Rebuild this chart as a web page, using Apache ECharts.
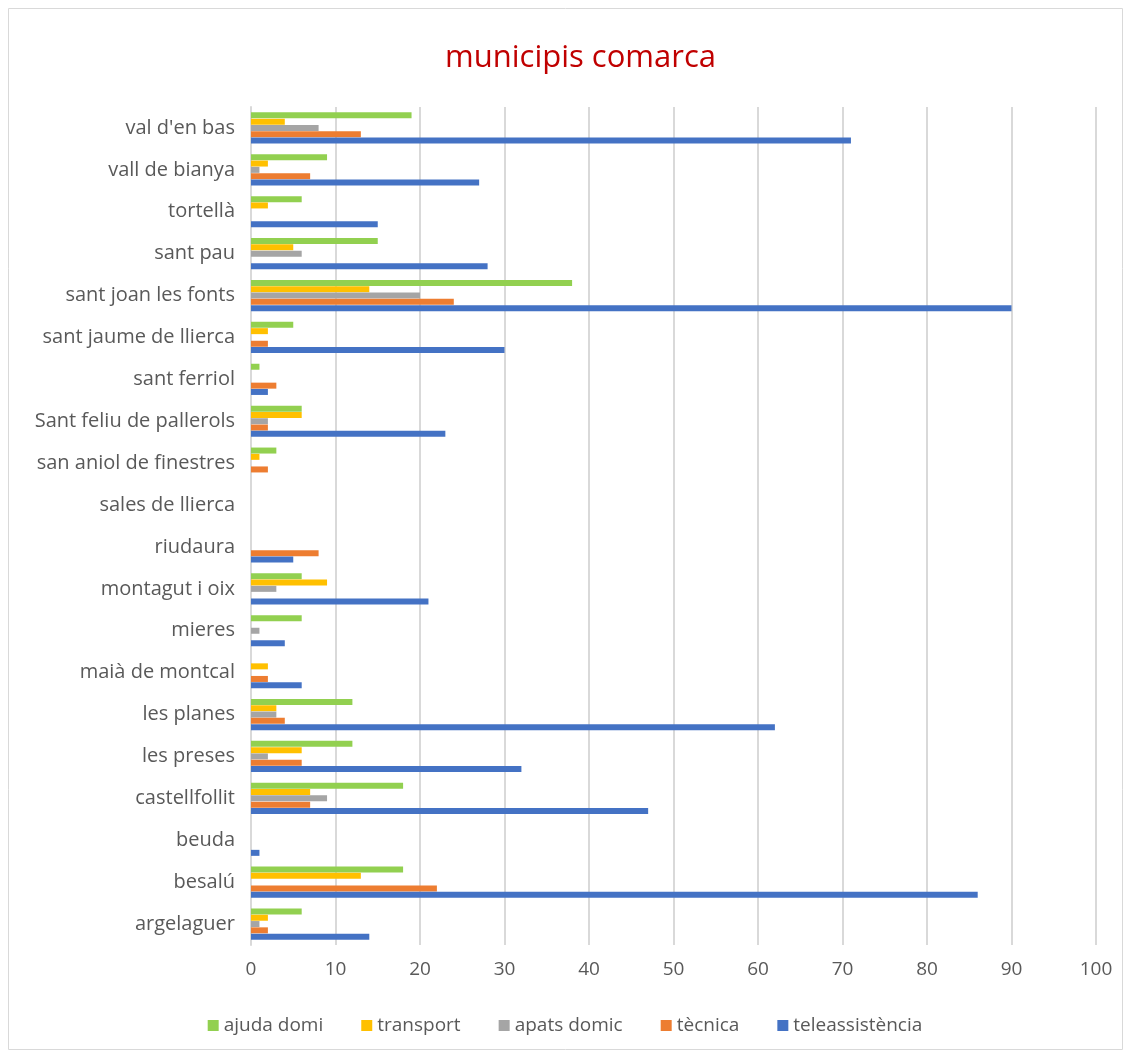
<!DOCTYPE html>
<html>
<head>
<meta charset="utf-8">
<script src="https://cdn.jsdelivr.net/npm/echarts@6/dist/echarts.min.js"></script>
<style>html,body{margin:0;padding:0;background:#fff}#c{width:1130px;height:1057px}</style>
</head>
<body>
<div id="c"></div>
<script>
// categories listed bottom -> top
var categories = ["argelaguer","besalú","beuda","castellfollit","les preses","les planes","maià de montcal","mieres","montagut i oix","riudaura","sales de llierca","san aniol de finestres","Sant feliu de pallerols","sant ferriol","sant jaume de llierca","sant joan les fonts","sant pau","tortellà","vall de bianya","val d'en bas"];
var ajudaDomi      = [6,18,0,18,12,12,0,6,6,0,0,3,6,1,5,38,15,6,9,19];
var transport      = [2,13,0,7,6,3,2,0,9,0,0,1,6,0,2,14,5,2,2,4];
var apatsDomic     = [1,0,0,9,2,3,0,1,3,0,0,0,2,0,0,20,6,0,1,8];
var tecnica        = [2,22,0,7,6,4,2,0,0,8,0,2,2,3,2,24,0,0,7,13];
var teleassistencia= [14,86,1,47,32,62,6,4,21,5,0,0,23,2,30,90,28,15,27,71];
var xTicks = [0,10,20,30,40,50,60,70,80,90,100];

var FONT = '"Open Sans", "Liberation Sans", sans-serif';
var chart = echarts.init(document.getElementById('c'));
function mk(name, data, color){
  return {name:name, type:'bar', data:data, barWidth:6, barGap:'5%',
    itemStyle:{color:color}};
}
chart.setOption({
  animation:false,
  title:{text:'municipis comarca', left:440, top:38,
    textStyle:{color:'#C00000', fontSize:31, fontWeight:'normal', fontFamily:FONT}},
  graphic:[{type:'rect', shape:{x:8.5,y:8.5,width:1114,height:1041},
    style:{fill:'none', stroke:'#d9d9d9', lineWidth:1}, silent:true}],
  grid:{left:251, right:34, top:107, bottom:112},
  legend:{bottom:17, left:'center', itemWidth:11, itemHeight:11, itemGap:38,
    icon:'rect',
    textStyle:{color:'#595959', fontSize:19, fontFamily:FONT},
    data:['ajuda domi','transport','apats domic','tècnica','teleassistència']},
  xAxis:{type:'value', min:0, max:100, interval:10,
    axisLine:{show:false}, axisTick:{show:false},
    splitLine:{lineStyle:{color:'#d9d9d9', width:2}},
    axisLabel:{color:'#595959', fontSize:19, fontFamily:FONT, margin:15,
      formatter:function(v){return xTicks.indexOf(v)>=0?String(v):'';}}},
  yAxis:{type:'category', data:categories,
    axisLine:{lineStyle:{color:'#d9d9d9', width:2}}, axisTick:{show:false},
    axisLabel:{color:'#595959', fontSize:20, fontFamily:FONT, margin:16}},
  series:[
    mk('ajuda domi', ajudaDomi, '#92D050'),
    mk('transport', transport, '#FFC000'),
    mk('apats domic', apatsDomic, '#A5A5A5'),
    mk('tècnica', tecnica, '#ED7D31'),
    mk('teleassistència', teleassistencia, '#4472C4')
  ]
});
</script>
</body>
</html>
